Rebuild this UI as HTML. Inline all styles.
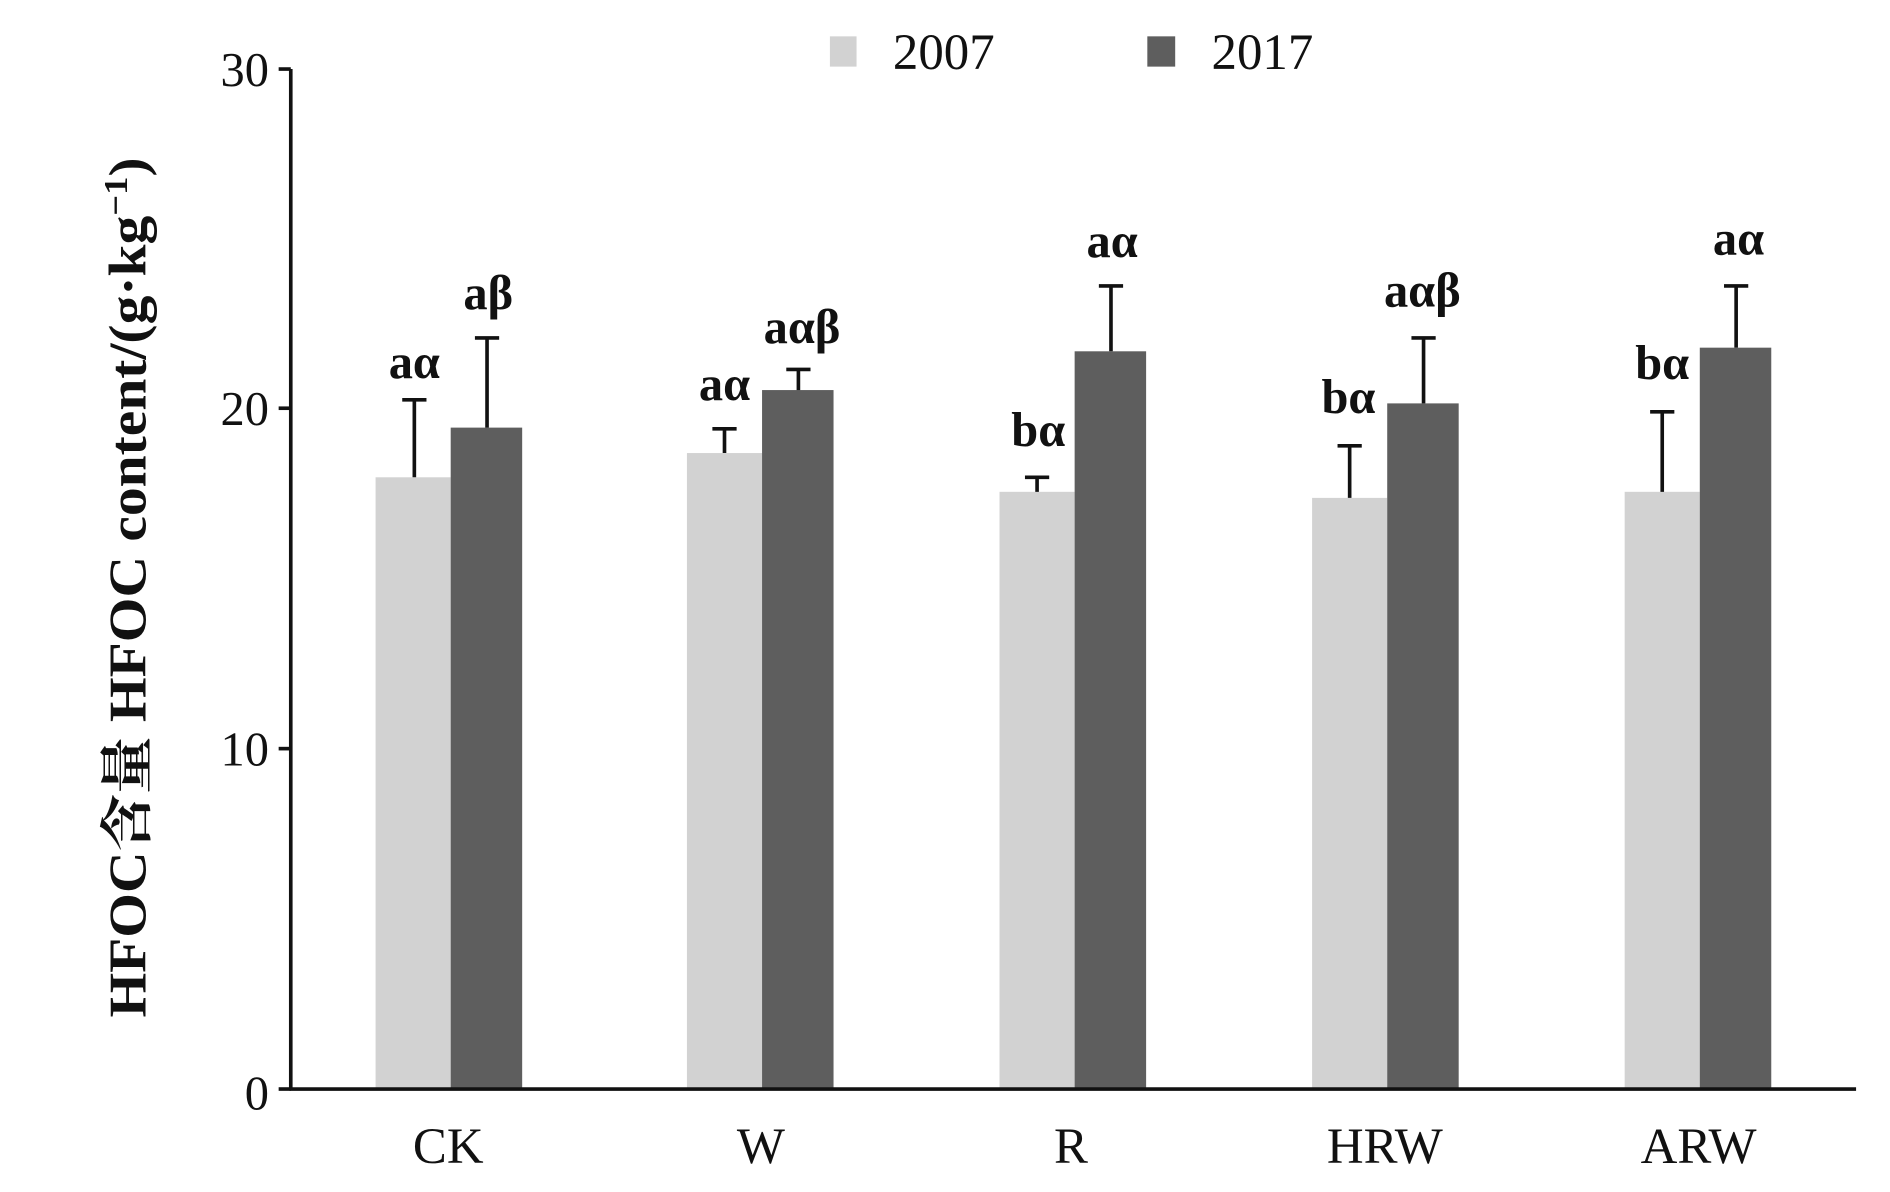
<!DOCTYPE html>
<html><head><meta charset="utf-8"><style>
html,body{margin:0;padding:0;background:#fff;}
svg{display:block;}
text{font-family:"Liberation Serif","Noto Serif CJK SC",serif;fill:#111;}
</style></head><body>
<svg width="1890" height="1192" viewBox="0 0 1560 984" preserveAspectRatio="none" xmlns="http://www.w3.org/2000/svg">
<rect width="1560" height="984" fill="#fff"/>
<!-- legend -->
<rect x="685" y="30" width="22" height="25" fill="#d2d2d2"/>
<text x="737" y="57" font-size="42">2007</text>
<rect x="947" y="30" width="23" height="25" fill="#5e5e5e"/>
<text x="1000" y="57" font-size="42">2017</text>
<!-- bars -->
<g fill="#d2d2d2">
<rect x="310" y="394" width="62" height="505"/>
<rect x="567" y="374" width="62" height="525"/>
<rect x="825" y="406" width="62" height="493"/>
<rect x="1083" y="411" width="62" height="488"/>
<rect x="1341" y="406" width="62" height="493"/>
</g>
<g fill="#5e5e5e">
<rect x="372" y="353" width="59" height="546"/>
<rect x="629" y="322" width="59" height="577"/>
<rect x="887" y="290" width="59" height="609"/>
<rect x="1145" y="333" width="59" height="566"/>
<rect x="1403" y="287" width="59" height="612"/>
</g>
<!-- error bars -->
<g stroke="#111" stroke-width="3" fill="none">
<path d="M342 394V330M332 330H352"/>
<path d="M402 353V279M392 279H412"/>
<path d="M598 374V354M588 354H608"/>
<path d="M659 322V305M649 305H669"/>
<path d="M856 406V394M846 394H866"/>
<path d="M917 290V236M907 236H927"/>
<path d="M1114 411V368M1104 368H1124"/>
<path d="M1175 333V279M1165 279H1185"/>
<path d="M1372 406V340M1362 340H1382"/>
<path d="M1433 287V236M1423 236H1443"/>
</g>
<!-- axes -->
<g stroke="#111" stroke-width="3">
<line x1="240" y1="57" x2="240" y2="900"/>
<line x1="239" y1="899" x2="1532" y2="899"/>
<line x1="230" y1="57" x2="240" y2="57"/>
<line x1="230" y1="337" x2="240" y2="337"/>
<line x1="230" y1="618" x2="240" y2="618"/>
<line x1="230" y1="899" x2="240" y2="899"/>
</g>
<g font-size="40" text-anchor="end">
<text x="222" y="71">30</text>
<text x="222" y="351">20</text>
<text x="222" y="632">10</text>
<text x="222" y="916">0</text>
</g>
<!-- category labels -->
<g font-size="42" text-anchor="middle">
<text x="370" y="960">CK</text>
<text x="628" y="960">W</text>
<text x="884" y="960">R</text>
<text x="1143" y="960">HRW</text>
<text x="1402" y="960">ARW</text>
</g>
<!-- annotations -->
<g font-size="40" font-weight="bold" text-anchor="middle">
<text x="342" y="312">aα</text>
<text x="403" y="255">aβ</text>
<text x="598" y="330">aα</text>
<text x="662" y="283">aαβ</text>
<text x="857" y="368">bα</text>
<text x="918" y="212">aα</text>
<text x="1113" y="341">bα</text>
<text x="1174" y="253">aαβ</text>
<text x="1372" y="313">bα</text>
<text x="1435" y="210">aα</text>
</g>
<!-- y label -->
<text transform="translate(120,485) rotate(-90)" x="-355" font-size="44" font-weight="bold" textLength="710" lengthAdjust="spacingAndGlyphs">HFOC含量 HFOC content/(g·kg<tspan font-size="28" dy="-15">−1</tspan><tspan dy="15">)</tspan></text>
</svg>
</body></html>
